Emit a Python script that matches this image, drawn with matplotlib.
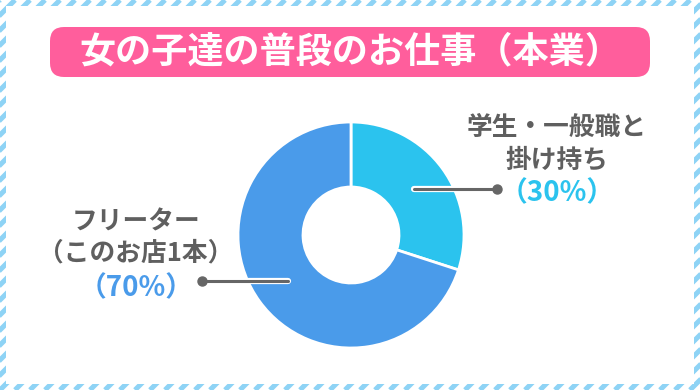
import numpy as np
import matplotlib
matplotlib.use('Agg')
import matplotlib.pyplot as plt
import matplotlib.patheffects as pe
from matplotlib.patches import Rectangle, FancyBboxPatch

plt.rcParams['font.family'] = ['Noto Sans CJK JP', 'DejaVu Sans']

title = '女の子達の普段のお仕事（本業）'
# slices go clockwise from 12 o'clock
shares = [30, 70]
names = [['学生・一般職と', '掛け持ち'], ['フリーター', '（このお店1本）']]
pct_labels = ['（30%）', '（70%）']
colors = ['#2BC3EE', '#4A9BEA']

W, H = 700, 390
fig = plt.figure(figsize=(7, 3.9), dpi=100)
ax = fig.add_axes([0, 0, 1, 1])

# striped frame
for k in range(-H, W + 20, 15):
    ax.plot([k, k + H], [0, H], color='#8ED3F5', lw=3.6, zorder=0,
            solid_capstyle='butt')
ax.add_patch(Rectangle((6, 6), W - 12, H - 12, fc='white', ec='none', zorder=1))

# title banner
ax.add_patch(FancyBboxPatch((62, 325), 576, 26, boxstyle='round,pad=12,rounding_size=14',
                            fc='#FF5E9C', ec='none', zorder=2))
ax.text(350, 338, title, ha='center', va='center', color='white',
        fontsize=26, fontweight='bold', zorder=3)

# donut
cx, cy, r_out, ring = 351, 155, 113, 65
wedges, _ = ax.pie(shares, colors=colors, startangle=90, counterclock=False,
                   radius=r_out, center=(cx, cy),
                   wedgeprops=dict(width=ring, edgecolor='white', linewidth=2))
for w in wedges:
    w.set_zorder(3)

ax.set_xlim(0, W)
ax.set_ylim(0, H)
ax.set_aspect('equal')
ax.axis('off')

gray = '#5f5f5f'
stroke = [pe.Stroke(linewidth=4.5, foreground='white'), pe.Normal()]
# label layout: (line end x, text center x, text rows y)
layout = [(497, 557, [263, 230, 197]), (202, 136, [168, 137, 102])]
for w, nm, pct, col, (x_end, tx, rows) in zip(wedges, names, pct_labels, colors, layout):
    mid = np.deg2rad((w.theta1 + w.theta2) / 2)
    x0 = cx + 78 * np.cos(mid)
    y0 = cy + 78 * np.sin(mid)
    ax.plot([x0, x_end], [y0, y0], color='#666666', lw=2.2, zorder=4,
            solid_capstyle='round', path_effects=stroke)
    ax.plot([x_end], [y0], 'o', color='#666666', ms=6.5, zorder=5)
    ax.text(tx, rows[0], nm[0], ha='center', va='center', color=gray,
            fontsize=18.5, fontweight='bold', zorder=4)
    ax.text(tx, rows[1], nm[1], ha='center', va='center', color=gray,
            fontsize=18.5, fontweight='bold', zorder=4)
    ax.text(tx, rows[2], pct, ha='center', va='center', color=col,
            fontsize=20, fontweight='bold', zorder=4)

fig.savefig('out.png', dpi=100)
